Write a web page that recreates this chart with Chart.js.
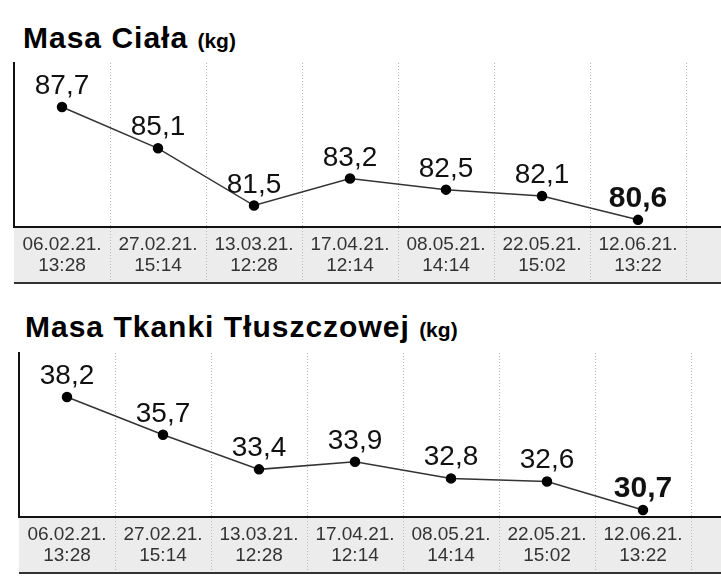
<!DOCTYPE html>
<html>
<head>
<meta charset="utf-8">
<script src="https://cdn.jsdelivr.net/npm/chart.js@4.4.0/dist/chart.umd.min.js"></script>
<style>
  body { margin: 0; width: 721px; height: 584px; overflow: hidden; background: #fff; position: relative; }
  .title { position: absolute; font: bold 30px "Liberation Sans", Arial, sans-serif; letter-spacing: 1px; line-height: 30px; color: #000; white-space: nowrap; }
  .title span { font-size: 21px; letter-spacing: 0; }
  .box { position: absolute; left: 0; width: 800px; height: 232px; }
</style>
</head>
<body>
<div class="title" style="left:23px; top:23px;">Masa Ciała <span>(kg)</span></div>
<div class="box" style="top:55px;"><canvas id="masaChart" width="800" height="232"></canvas></div>

<div class="title" style="left:25px; top:312px;">Masa Tkanki Tłuszczowej <span>(kg)</span></div>
<div class="box" style="top:345px;"><canvas id="tluszczChart" width="800" height="232"></canvas></div>

<script>
// measurement dates (date / time), last slot is an empty column
const dates = ['06.02.21.', '27.02.21.', '13.03.21.', '17.04.21.', '08.05.21.', '22.05.21.', '12.06.21.'];
const times = ['13:28', '15:14', '12:28', '12:14', '14:14', '15:02', '13:22'];

const masaCiala = [87.7, 85.1, 81.5, 83.2, 82.5, 82.1, 80.6];
const masaTluszczu = [38.2, 35.7, 33.4, 33.9, 32.8, 32.6, 30.7];

// y ranges [min, max]
const masaRange = [80.15, 90.47];
const tluszczRange = [30.24, 41.12];

const FONT = '"Liberation Sans", Arial, sans-serif';
const BAND = 56; // height of the gray date strip

const xLabels = dates.map((d, i) => [d, times[i]]).concat(['']);

const decoPlugin = {
    id: 'deco',
    beforeDraw(chart) {
        const {ctx, chartArea: a, width, height} = chart;
        ctx.save();
        ctx.fillStyle = '#fff';
        ctx.fillRect(0, 0, width, height);
        ctx.fillStyle = '#ececec';
        ctx.fillRect(a.left, a.bottom, a.right - a.left, BAND);
        ctx.restore();
    },
    afterDatasetsDraw(chart) {
        const {ctx} = chart;
        const meta = chart.getDatasetMeta(0);
        const data = chart.data.datasets[0].data;
        ctx.save();
        ctx.fillStyle = '#111';
        ctx.textAlign = 'center';
        ctx.textBaseline = 'alphabetic';
        meta.data.forEach(function (pt, i) {
            const last = i === data.length - 1;
            ctx.font = (last ? 'bold 30px ' : '28px ') + FONT;
            ctx.fillText(data[i].toFixed(1).replace('.', ','), pt.x, pt.y - 13);
        });
        ctx.restore();
    },
    afterDraw(chart) {
        const {ctx, chartArea: a} = chart;
        ctx.save();
        ctx.strokeStyle = '#333';
        ctx.lineWidth = 2;
        ctx.beginPath();
        ctx.moveTo(a.left, a.bottom + BAND);
        ctx.lineTo(a.right, a.bottom + BAND);
        ctx.stroke();
        ctx.restore();
    }
};

function makeChart(id, values, range, padLeft) {
    var ctx = document.getElementById(id);
    return new Chart(ctx, {
        type: 'line',
        data: {
            labels: xLabels,
            datasets: [
                {
                    data: values,
                    borderColor: '#333',
                    borderWidth: 1.5,
                    pointRadius: 4.5,
                    pointBackgroundColor: '#000',
                    pointBorderColor: '#000',
                    tension: 0
                }
            ]
        },
        options: {
            responsive: false,
            animation: false,
            layout: {
                padding: {left: padLeft, right: 32 - padLeft, top: 8, bottom: 4}
            },
            plugins: {
                legend: {display: false},
                tooltip: {enabled: false}
            },
            scales: {
                x: {
                    offset: true,
                    afterFit: function (scale) { scale.height = BAND; },
                    grid: {
                        offset: true,
                        color: c => c.index === 0 ? 'rgba(0,0,0,0)' : '#b8b8b8',
                        tickColor: c => c.index === 0 ? 'rgba(0,0,0,0)' : '#b8b8b8',
                        lineWidth: 1,
                        tickLength: BAND,
                        tickBorderDash: [1, 2]
                    },
                    border: {
                        display: true,
                        color: '#111',
                        width: 2,
                        dash: [1, 2]
                    },
                    ticks: {
                        color: '#333',
                        padding: -49,
                        maxRotation: 0,
                        autoSkip: false,
                        font: {family: FONT, size: 19, lineHeight: 1.1}
                    }
                },
                y: {
                    min: range[0],
                    max: range[1],
                    ticks: {display: false},
                    grid: {drawOnChartArea: false, drawTicks: false},
                    border: {display: true, color: '#111', width: 2}
                }
            }
        },
        plugins: [decoPlugin]
    });
}

makeChart('masaChart', masaCiala, masaRange, 14);
makeChart('tluszczChart', masaTluszczu, tluszczRange, 19);
</script>
</body>
</html>
